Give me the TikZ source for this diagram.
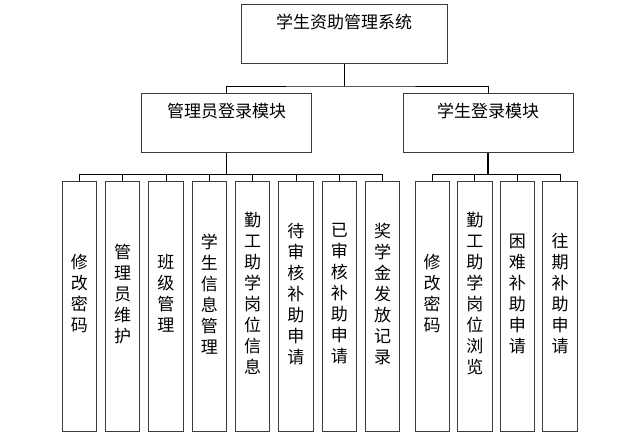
\documentclass[tikz,border=0pt]{standalone}
\usepackage{fontspec}
\newfontfamily\cjk{Noto Sans CJK SC}
\usetikzlibrary{calc}
\definecolor{lineA}{RGB}{60, 60, 60}
\definecolor{darkA}{RGB}{0, 0, 0}

\begin{document}
\begin{tikzpicture}[x=1pt, y=-1pt,
  box/.style={draw=lineA, line width=0.9pt, minimum width=170pt, minimum height=59pt, inner sep=0pt},
  cell/.style={draw=lineA, line width=0.9pt, minimum width=34.5pt, minimum height=250pt, inner sep=0pt},
  title/.style={anchor=north, inner sep=0pt, yshift=-10pt, font=\cjk\fontsize{17}{21}\selectfont},
  vtext/.style={align=center, inner sep=0pt, yshift=13pt, font=\cjk\fontsize{17}{21}\selectfont},
  link/.style={draw=darkA, line width=0.9pt},
  trunk/.style={draw=darkA, line width=1.6pt}]
  \useasboundingbox (0,0) rectangle (640,445);

  \coordinate (b0) at (344, 86);

  \node[box, minimum width=206pt, label={[title]north:学生资助管理系统}] (sys) at (344, 34) {};
  \node[box, label={[title]north:管理员登录模块}] (admin) at (226.5, 122.6) {};
  \node[box, label={[title]north:学生登录模块}] (stu) at (488, 122.6) {};

  \foreach \t [count=\i] in {修\\改\\密\\码, 管\\理\\员\\维\\护, 班\\级\\管\\理, 学\\生\\信\\息\\管\\理,
      勤\\工\\助\\学\\岗\\位\\信\\息, 待\\审\\核\\补\\助\\申\\请, 已\\审\\核\\补\\助\\申\\请, 奖\\学\\金\\发\\放\\记\\录}
    \node[cell, label={[vtext]center:\t}] (a\i) at ({79.3 + 43.33*(\i-1)}, 306.7) {};

  \foreach \t [count=\i] in {修\\改\\密\\码, 勤\\工\\助\\学\\岗\\位\\浏\\览, 困\\难\\补\\助\\申\\请, 往\\期\\补\\助\\申\\请}
    \node[cell, label={[vtext]center:\t}] (s\i) at ({432.2 + 42.6*(\i-1)}, 306.7) {};

  \draw[link] (sys.south) -- (b0);
  \draw[link] (admin.north) |- (b0) -| (stu.north);

  \draw[trunk] (admin.south) -- ++(0, 21.7);
  \foreach \i in {1,...,8}
    \draw[link] (admin.south) ++(0, 21.7) -| (a\i.north);

  \draw[trunk] (stu.south) -- ++(0, 21.7);
  \foreach \i in {1,...,4}
    \draw[link] (stu.south) ++(0, 21.7) -| (s\i.north);
\end{tikzpicture}
\end{document}
